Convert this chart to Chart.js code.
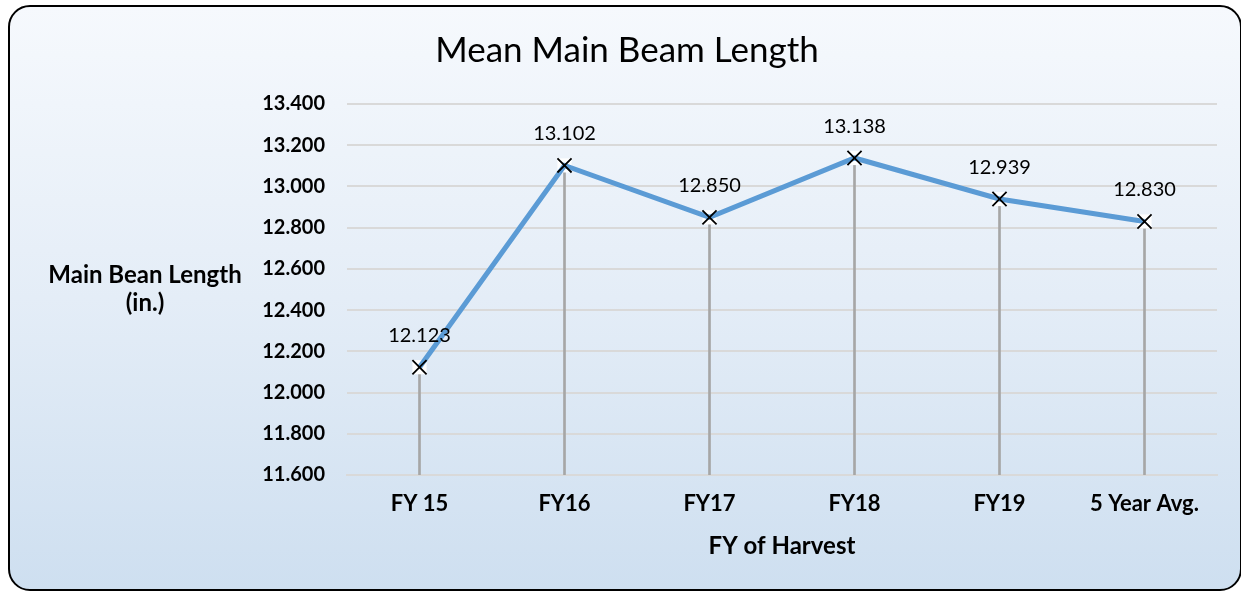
<!DOCTYPE html>
<html>
<head>
<meta charset="utf-8">
<script src="https://cdn.jsdelivr.net/npm/chart.js@4"></script>
<style>
  html, body { margin: 0; padding: 0; background: #fff; }
  .frame {
    position: absolute; left: 8px; top: 5px;
    width: 1234px; height: 586px; box-sizing: border-box;
    border: 2px solid #000; border-radius: 22px;
    background: linear-gradient(to bottom, #f6f9fd 0%, #e4edf7 50%, #cedff0 100%);
  }
  canvas { position: absolute; left: 0; top: 0; }
</style>
</head>
<body>
<div class="frame"></div>
<canvas id="myChart" width="1241" height="592"></canvas>
<script>
// data
const categories = ["FY 15", "FY16", "FY17", "FY18", "FY19", "5 Year Avg."];
const beamLength = [12.123, 13.102, 12.850, 13.138, 12.939, 12.830];
const yTicks = [11.6, 11.8, 12.0, 12.2, 12.4, 12.6, 12.8, 13.0, 13.2, 13.4];

const chartTitle = "Mean Main Beam Length";
const yTitle = ["Main Bean Length", "(in.)"];
const xTitle = "FY of Harvest";

const yMin = yTicks[0];
const yMax = yTicks[yTicks.length - 1];

const FONT = "Lato";

// titles + value labels
const textPlugin = {
  id: "texts",
  afterDatasetsDraw(chart) {
    const ctx = chart.ctx;
    const area = chart.chartArea;
    ctx.save();
    ctx.fillStyle = "#000";
    ctx.textAlign = "center";
    ctx.textBaseline = "alphabetic";

    ctx.font = "35px " + FONT;
    ctx.fillText(chartTitle, 627, 62);

    ctx.font = "bold 24px " + FONT;
    ctx.fillText(yTitle[0], 145, 283);
    ctx.fillText(yTitle[1], 145, 311);

    ctx.fillText(xTitle, (area.left + area.right) / 2, 554);

    // value labels above points
    ctx.font = "20px " + FONT;
    const meta = chart.getDatasetMeta(2);
    meta.data.forEach((pt, i) => {
      ctx.fillText(beamLength[i].toFixed(3), pt.x, pt.y - 25);
    });
    ctx.restore();
  }
};

new Chart(document.getElementById("myChart"), {
  data: {
    labels: categories,
    datasets: [
      {
        // drop lines
        type: "bar",
        data: beamLength.map(v => [yMin, v]),
        backgroundColor: "#a6a6a6",
        barThickness: 2,
        grouped: false,
        order: 3
      },
      {
        // white box behind markers
        type: "line",
        data: beamLength,
        showLine: false,
        pointStyle: "rect",
        pointRadius: 10,
        pointBackgroundColor: "#ffffff",
        pointBorderWidth: 0,
        order: 2
      },
      {
        type: "line",
        data: beamLength,
        borderColor: "#5b9bd5",
        borderWidth: 5,
        tension: 0,
        pointStyle: "crossRot",
        pointRadius: 10,
        pointBorderColor: "#000",
        pointBorderWidth: 1.8,
        order: 1
      }
    ]
  },
  options: {
    responsive: false,
    animation: false,
    layout: { padding: { top: 104, right: 24, left: 0, bottom: 0 } },
    plugins: {
      legend: { display: false },
      tooltip: { enabled: false }
    },
    scales: {
      x: {
        offset: true,
        grid: { display: false, drawTicks: false },
        border: { display: true, color: "#d9d9d9", width: 2 },
        ticks: {
          padding: 16,
          color: "#000",
          font: { family: FONT, size: 22, weight: "bold" }
        },
        afterFit(scale) { scale.height = 117; }
      },
      y: {
        min: yMin,
        max: yMax,
        grid: { color: "#d9d9d9", lineWidth: 2, drawTicks: false },
        border: { display: false },
        afterBuildTicks(scale) {
          scale.ticks = yTicks.map(v => ({ value: v }));
        },
        ticks: {
          padding: 22,
          color: "#000",
          font: { family: FONT, size: 20, weight: "bold" },
          callback: v => Number(v).toFixed(3)
        },
        afterFit(scale) { scale.width = 347; }
      }
    }
  },
  plugins: [textPlugin]
});
</script>
</body>
</html>
